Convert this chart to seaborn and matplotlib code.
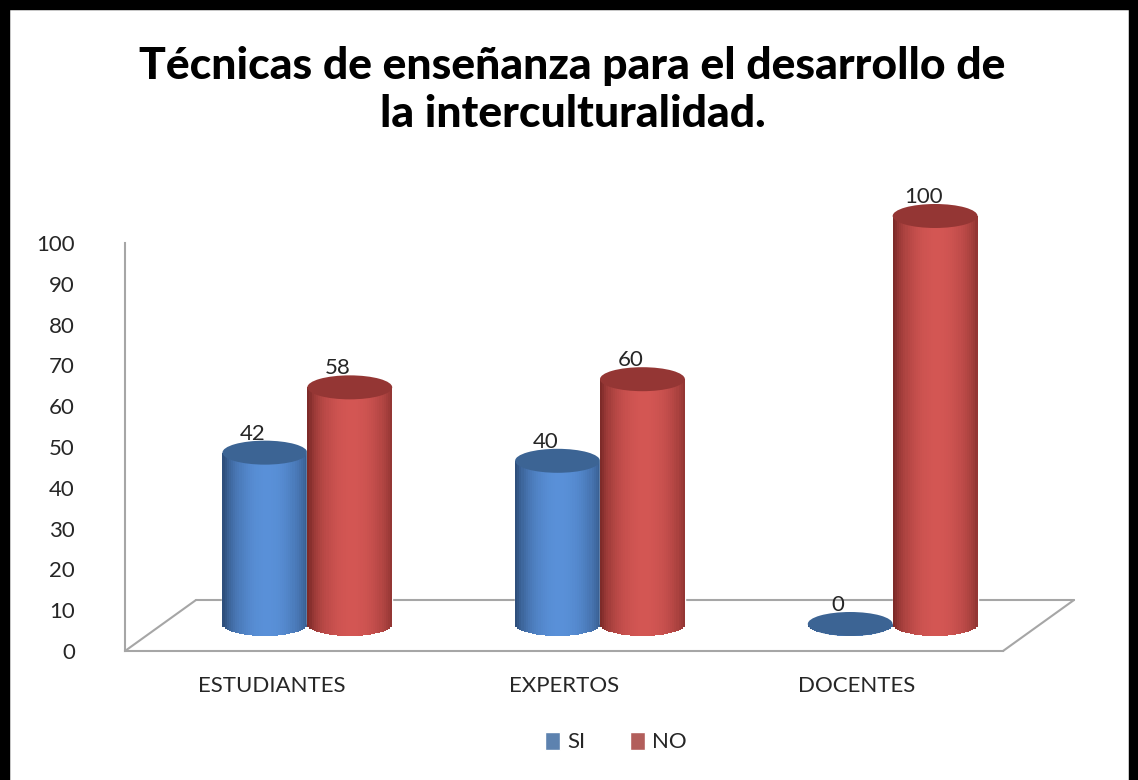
import numpy as np
import pandas as pd
import matplotlib.pyplot as plt
import matplotlib.transforms as mtransforms
from matplotlib.patches import Ellipse, Rectangle
from matplotlib.lines import Line2D
from matplotlib.colors import to_rgb
import seaborn as sns

# Datos
grupos = ["ESTUDIANTES", "EXPERTOS", "DOCENTES"]
series = ["SI", "NO"]
si = [42, 40, 0]
no = [58, 60, 100]
yticks = list(range(0, 101, 10))
titulo = "Técnicas de enseñanza para el desarrollo de\nla interculturalidad."

df = pd.DataFrame({
    "grupo": grupos * 2,
    "respuesta": ["SI"] * 3 + ["NO"] * 3,
    "valor": si + no,
})

# Colores (borde oscuro, brillo, tapa)
colores = {"SI": "#4F81BD", "NO": "#C0504D"}
sombras = {
    "SI": ("#2E4F7C", "#5990D8", "#3C6494"),
    "NO": ("#7E2B29", "#D35653", "#943634"),
}
gris = "#A6A6A6"

sns.set_style("white")
plt.rcParams['font.family'] = ['Lato', 'DejaVu Sans']

fig = plt.figure(figsize=(11.38, 7.8), dpi=100)
ax = fig.add_axes([125 / 1138, 1 - 651 / 780, (1003 - 125) / 1138, (651 - 243) / 780])

sns.barplot(data=df, x="grupo", y="valor", hue="respuesta", hue_order=series,
            palette=colores, width=0.58, ax=ax)
ax.set_xlim(-0.5, 2.5)
ax.set_ylim(0, 100)

# -----------------------------
# CILINDROS (efecto 3D)
# -----------------------------
desplazar = mtransforms.offset_copy(ax.transData, fig=fig, x=36, y=27, units='dots')
px_unidad = ax.bbox.height / 100
e = 12 / px_unidad  # semieje vertical de las elipses en unidades de datos
n = 40

for k, (container, serie) in enumerate(zip(ax.containers, series)):
    oscuro, claro, tapa = [np.array(to_rgb(c)) for c in sombras[serie]]
    z = 3 + k
    for bar in container:
        x0, w, h = bar.get_x(), bar.get_width(), bar.get_height()
        bar.set_transform(desplazar)
        bar.set_facecolor(oscuro)
        bar.set_zorder(z)
        bar.set_clip_on(False)
        for i in range(n):
            uc = -1 + (2 * i + 1) / n
            f = np.clip(1 - (uc - 0.05) ** 2, 0, 1) ** 0.7
            col = oscuro + (claro - oscuro) * f
            fondo = e * np.sqrt(max(1 - uc ** 2, 0))
            ax.add_patch(Rectangle((x0 + w * i / n, -fondo), w / n * 1.05, h + fondo,
                                   transform=desplazar, facecolor=col, lw=0,
                                   zorder=z, clip_on=False))
        ax.add_patch(Ellipse((x0 + w / 2, h), w, 2 * e, transform=desplazar,
                             facecolor=tapa, lw=0, zorder=z + 0.1, clip_on=False))
        ax.annotate(f"{h:.0f}", (x0 + w / 2, h + e), xycoords=desplazar,
                    xytext=(-12, -3), textcoords='offset pixels',
                    ha='center', va='bottom', fontsize=16, zorder=10)

# -----------------------------
# PISO EN PERSPECTIVA
# -----------------------------
fondo_tr = mtransforms.offset_copy(ax.transData, fig=fig, x=71, y=51, units='dots')
ax.plot([-0.5, 2.5], [0, 0], transform=fondo_tr, color=gris, lw=1.5, clip_on=False, zorder=1)
inv = ax.transData.inverted()
for xe in (-0.5, 2.5):
    p0 = ax.transData.transform((xe, 0))
    p1 = p0 + np.array([71, 51])
    q0, q1 = inv.transform(p0), inv.transform(p1)
    ax.plot([q0[0], q1[0]], [q0[1], q1[1]], color=gris, lw=1.5, clip_on=False, zorder=1)

# Ejes
for s in ["top", "right"]:
    ax.spines[s].set_visible(False)
ax.spines["left"].set_color(gris)
ax.spines["bottom"].set_color(gris)
ax.spines["left"].set_linewidth(1.5)
ax.spines["bottom"].set_linewidth(1.5)
ax.set_yticks(yticks)
ax.set_xticks([-0.5, 0.5, 1.5, 2.5], minor=True)
ax.tick_params(axis='y', length=0, pad=36, labelsize=16)
ax.tick_params(axis='x', which='major', length=0, pad=18, labelsize=16)
ax.tick_params(axis='x', which='minor', length=8, width=1.5, color=gris)
ax.set_xlabel("")
ax.set_ylabel("")

# Leyenda
handles, labels = ax.get_legend_handles_labels()
ax.get_legend().remove()
fig.legend(handles, labels, loc='center', bbox_to_anchor=(0.541, 1 - 742 / 780),
           ncol=2, frameon=False, fontsize=16, handlelength=0.7, handleheight=0.9,
           handletextpad=0.3, columnspacing=2.0)

# Titulo
fig.text(0.503, 1 - 90 / 780, titulo, ha='center', va='center', fontsize=32,
         fontweight='black', linespacing=1.25, color='black')

# Marco negro
for xs, ys in [([0, 0], [0, 1]), ([0, 1], [1, 1]), ([1, 1], [0, 1])]:
    fig.add_artist(Line2D(xs, ys, transform=fig.transFigure, color='black', lw=14))

plt.savefig("out.png", dpi=100)
